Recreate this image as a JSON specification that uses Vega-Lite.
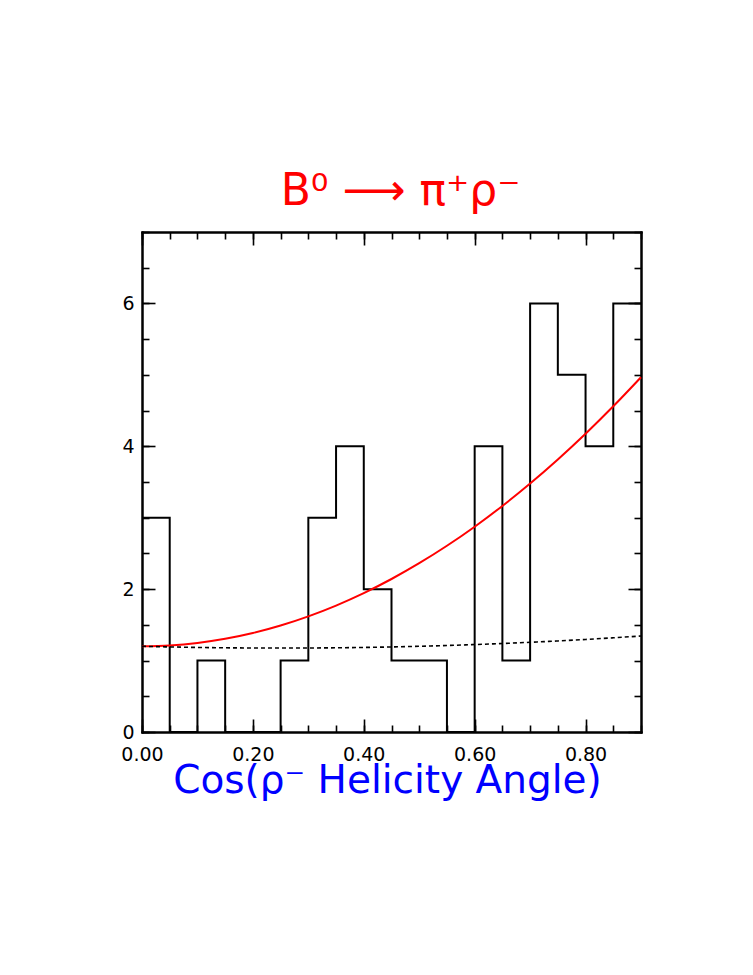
{
  "$schema": "https://vega.github.io/schema/vega-lite/v6.json",
  "width": 499,
  "height": 500,
  "autosize": {"type": "none"},
  "padding": {"left": 142, "top": 232, "right": 112, "bottom": 243},
  "background": "white",
  "title": {
    "text": "B⁰ ⟶ π⁺ρ⁻",
    "color": "#ff0000",
    "font": "DejaVu Sans",
    "fontSize": 44,
    "fontWeight": "normal",
    "anchor": "middle",
    "dx": 9,
    "offset": 17
  },
  "datasets": {
    "hist": [
      {"x": 0.00, "y": 3}, {"x": 0.05, "y": 0}, {"x": 0.10, "y": 1}, {"x": 0.15, "y": 0},
      {"x": 0.20, "y": 0}, {"x": 0.25, "y": 1}, {"x": 0.30, "y": 3}, {"x": 0.35, "y": 4},
      {"x": 0.40, "y": 2}, {"x": 0.45, "y": 1}, {"x": 0.50, "y": 1}, {"x": 0.55, "y": 0},
      {"x": 0.60, "y": 4}, {"x": 0.65, "y": 1}, {"x": 0.70, "y": 6}, {"x": 0.75, "y": 5},
      {"x": 0.80, "y": 4}, {"x": 0.85, "y": 6}, {"x": 0.90, "y": 6}
    ],
    "fit": [
      {"x": 0.00, "y": 1.2}, {"x": 0.05, "y": 1.212}, {"x": 0.10, "y": 1.247}, {"x": 0.15, "y": 1.305},
      {"x": 0.20, "y": 1.386}, {"x": 0.25, "y": 1.491}, {"x": 0.30, "y": 1.619}, {"x": 0.35, "y": 1.770},
      {"x": 0.40, "y": 1.944}, {"x": 0.45, "y": 2.142}, {"x": 0.50, "y": 2.363}, {"x": 0.55, "y": 2.607},
      {"x": 0.60, "y": 2.874}, {"x": 0.65, "y": 3.165}, {"x": 0.70, "y": 3.479}, {"x": 0.75, "y": 3.816},
      {"x": 0.80, "y": 4.176}, {"x": 0.85, "y": 4.560}, {"x": 0.90, "y": 4.967}
    ],
    "bg": [
      {"x": 0.00, "y": 1.2}, {"x": 0.05, "y": 1.191}, {"x": 0.10, "y": 1.184}, {"x": 0.15, "y": 1.179},
      {"x": 0.20, "y": 1.176}, {"x": 0.25, "y": 1.175}, {"x": 0.30, "y": 1.176}, {"x": 0.35, "y": 1.179},
      {"x": 0.40, "y": 1.184}, {"x": 0.45, "y": 1.191}, {"x": 0.50, "y": 1.2}, {"x": 0.55, "y": 1.211},
      {"x": 0.60, "y": 1.224}, {"x": 0.65, "y": 1.239}, {"x": 0.70, "y": 1.256}, {"x": 0.75, "y": 1.275},
      {"x": 0.80, "y": 1.296}, {"x": 0.85, "y": 1.319}, {"x": 0.90, "y": 1.344}
    ]
  },
  "layer": [
    {
      "data": {"name": "hist"},
      "mark": {"type": "line", "interpolate": "step-after", "color": "black", "strokeWidth": 2, "clip": true},
      "encoding": {
        "x": {
          "field": "x", "type": "quantitative",
          "scale": {"domain": [0, 0.9], "nice": false, "zero": false},
          "axis": {
            "orient": "bottom",
            "values": [0, 0.2, 0.4, 0.6, 0.8],
            "format": ".2f",
            "tickSize": -13,
            "labelPadding": 26,
            "title": "Cos(ρ⁻ Helicity Angle)",
            "titleColor": "#0000ff",
            "titleFont": "DejaVu Sans",
            "titleFontSize": 39,
            "titleFontWeight": "normal",
            "titleBaseline": "alphabetic",
            "titleAnchor": "middle",
            "titleX": 245,
            "titleY": 60
          }
        },
        "y": {
          "field": "y", "type": "quantitative",
          "scale": {"domain": [0, 7], "nice": false},
          "axis": {
            "orient": "left",
            "values": [0, 2, 4, 6],
            "tickSize": -13,
            "labelPadding": 21,
            "title": null
          }
        }
      }
    },
    {
      "data": {"name": "fit"},
      "mark": {"type": "line", "color": "#ff0000", "strokeWidth": 2, "interpolate": "monotone"},
      "encoding": {
        "x": {
          "field": "x", "type": "quantitative",
          "scale": {"domain": [0, 0.9], "nice": false, "zero": false},
          "axis": {
            "orient": "bottom",
            "values": [0, 0.05, 0.1, 0.15, 0.2, 0.25, 0.3, 0.35, 0.4, 0.45, 0.5, 0.55, 0.6, 0.65, 0.7, 0.75, 0.8, 0.85, 0.9],
            "tickSize": -7,
            "labels": false,
            "title": null
          }
        },
        "y": {
          "field": "y", "type": "quantitative",
          "scale": {"domain": [0, 7], "nice": false},
          "axis": {
            "orient": "left",
            "values": [0, 0.5, 1, 1.5, 2, 2.5, 3, 3.5, 4, 4.5, 5, 5.5, 6, 6.5, 7],
            "tickSize": -7,
            "labels": false,
            "title": null
          }
        }
      }
    },
    {
      "data": {"name": "bg"},
      "mark": {"type": "line", "color": "black", "strokeWidth": 1.6, "strokeDash": [4, 3], "interpolate": "monotone"},
      "encoding": {
        "x": {
          "field": "x", "type": "quantitative",
          "scale": {"domain": [0, 0.9], "nice": false, "zero": false},
          "axis": {
            "orient": "top",
            "values": [0, 0.2, 0.4, 0.6, 0.8],
            "tickSize": -13,
            "labels": false,
            "title": null
          }
        },
        "y": {
          "field": "y", "type": "quantitative",
          "scale": {"domain": [0, 7], "nice": false},
          "axis": {
            "orient": "right",
            "values": [0, 2, 4, 6],
            "tickSize": -13,
            "labels": false,
            "title": null
          }
        }
      }
    },
    {
      "data": {"name": "hist"},
      "mark": {"type": "point", "opacity": 0},
      "encoding": {
        "x": {
          "field": "x", "type": "quantitative",
          "scale": {"domain": [0, 0.9], "nice": false, "zero": false},
          "axis": {
            "orient": "top",
            "values": [0, 0.05, 0.1, 0.15, 0.2, 0.25, 0.3, 0.35, 0.4, 0.45, 0.5, 0.55, 0.6, 0.65, 0.7, 0.75, 0.8, 0.85, 0.9],
            "tickSize": -7,
            "labels": false,
            "title": null
          }
        },
        "y": {
          "field": "y", "type": "quantitative",
          "scale": {"domain": [0, 7], "nice": false},
          "axis": {
            "orient": "right",
            "values": [0, 0.5, 1, 1.5, 2, 2.5, 3, 3.5, 4, 4.5, 5, 5.5, 6, 6.5, 7],
            "tickSize": -7,
            "labels": false,
            "title": null
          }
        }
      }
    }
  ],
  "resolve": {"axis": {"x": "independent", "y": "independent"}},
  "config": {
    "view": {"stroke": null},
    "axis": {
      "grid": false,
      "domainColor": "black",
      "domainWidth": 2,
      "domainCap": "square",
      "tickColor": "black",
      "tickWidth": 1.6,
      "labelFont": "DejaVu Sans",
      "labelFontSize": 19,
      "labelColor": "black",
      "labelFlush": false,
      "labelOverlap": false,
      "labelBound": false
    }
  }
}
